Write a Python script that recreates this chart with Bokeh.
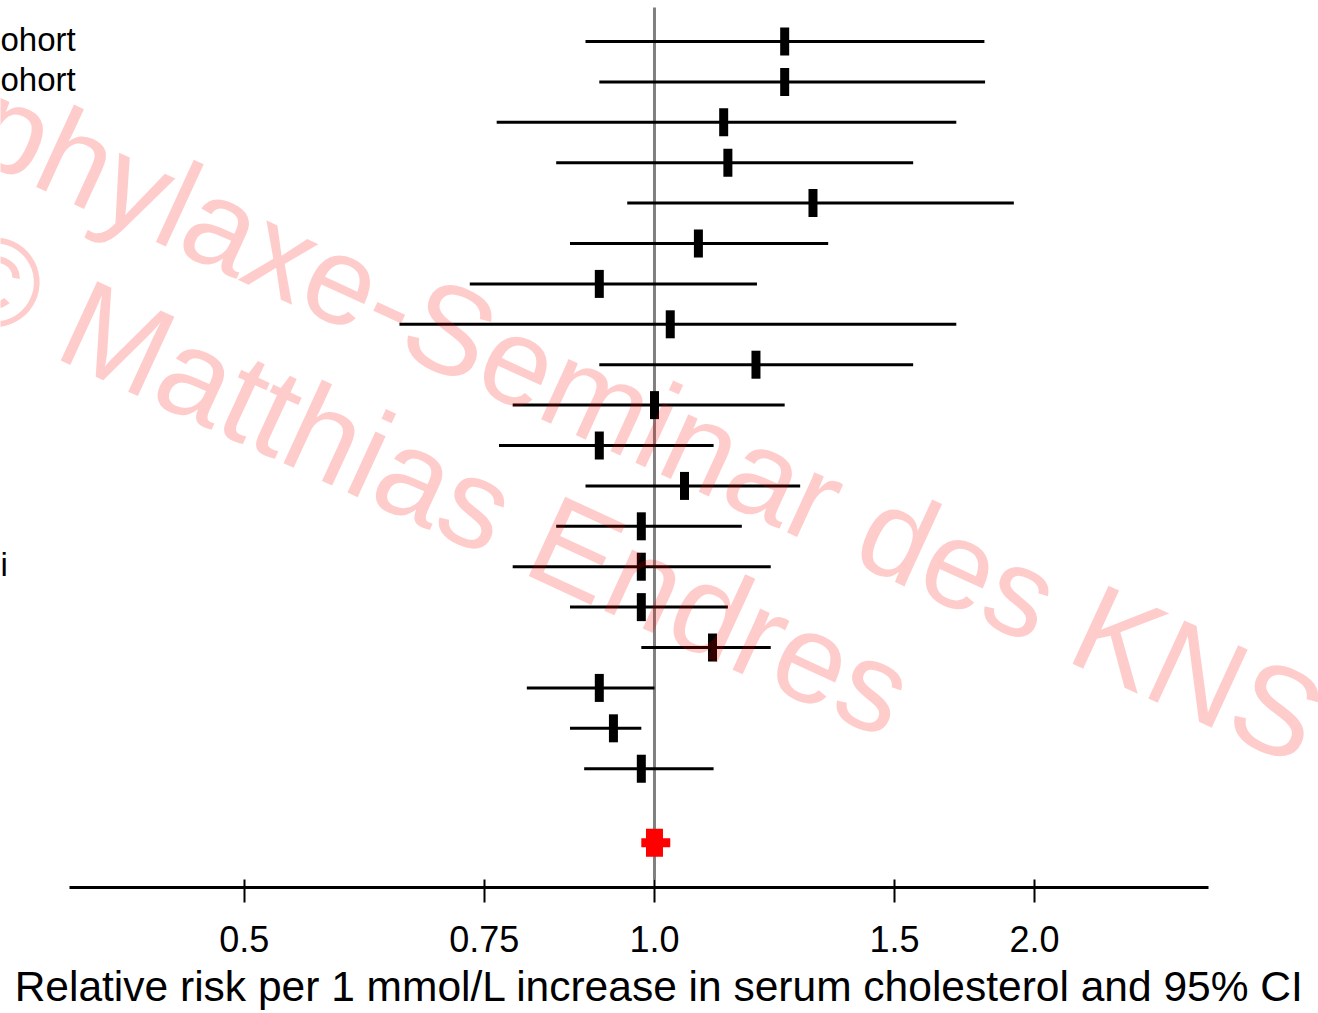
import math
from bokeh.plotting import figure
from bokeh.models import Range1d, FixedTicker, Label, ColumnDataSource
from bokeh.embed import file_html
from bokeh.resources import INLINE

# ---------------- data ----------------
rr = [1.246, 1.246, 1.124, 1.132, 1.307, 1.077, 0.911, 1.027, 1.187, 1.000,
      0.911, 1.052, 0.978, 0.978, 0.978, 1.103, 0.911, 0.933, 0.978]
ci_low = [0.890, 0.911, 0.766, 0.847, 0.955, 0.867, 0.732, 0.650, 0.911, 0.787,
          0.769, 0.890, 0.847, 0.787, 0.867, 0.978, 0.806, 0.867, 0.888]
ci_high = [1.746, 1.748, 1.665, 1.548, 1.835, 1.341, 1.189, 1.665, 1.548, 1.246,
           1.105, 1.279, 1.159, 1.217, 1.132, 1.217, 1.000, 0.978, 1.105]
# visible ends of the study labels on the left edge
row_labels = ["ohort", "ohort", "", "", "", "", "", "", "", "",
              "", "", "", "i", "", "", "", "", ""]
summary_rr = 1.0
summary_low = 0.978
summary_high = 1.027

tick_values = [0.5, 0.75, 1.0, 1.5, 1.9]
tick_labels = ["0.5", "0.75", "1.0", "1.5", "2.0"]
x_title = "Relative risk per 1 mmol/L increase in serum cholesterol and 95% CI"
watermark_1 = "Prophylaxe-Seminar des KNS"
watermark_2 = "\u00a9 Matthias Endres"

# ---------------- layout constants ----------------
FONT = "Liberation Sans"
FRAME_W, FRAME_H = 1318, 887
SUMMARY_GAP = 1.83
rows = [i + 1 for i in range(len(rr))]
summary_row = len(rr) + SUMMARY_GAP

p = figure(frame_width=FRAME_W, frame_height=FRAME_H,
           x_axis_type="log", output_backend="svg", toolbar_location=None,
           x_range=Range1d(0.3313, 3.070), y_range=Range1d(21.94, -0.015),
           min_border_left=0, min_border_right=0, min_border_top=0,
           min_border_bottom=0, y_axis_location=None)
p.outline_line_color = None
p.xgrid.visible = False
p.ygrid.visible = False
p.background_fill_color = "white"
p.border_fill_color = "white"

# reference line at RR = 1
p.segment(x0=[1.0], x1=[1.0], y0=[0.16], y1=[21.74], line_color="#808080", line_width=3)

src = ColumnDataSource(dict(y=rows, rr=rr, lo=ci_low, hi=ci_high))
p.segment(x0="lo", x1="hi", y0="y", y1="y", source=src, line_color="black", line_width=3)
p.rect(x="rr", y="y", width=9, height=28, width_units="screen", height_units="screen",
       source=src, fill_color="black", line_color=None)

# pooled estimate (red)
p.hbar(y=[summary_row], left=[summary_low], right=[summary_high], height=0.223,
       fill_color="red", line_color=None)
p.rect(x=[summary_rr], y=[summary_row], width=17, height=28, width_units="screen",
       height_units="screen", fill_color="red", line_color=None)

# axis
ax = p.xaxis[0]
ax.ticker = FixedTicker(ticks=tick_values)
ax.major_label_overrides = {v: l for v, l in zip(tick_values, tick_labels)}
ax.bounds = (0.372, 2.549)
ax.minor_tick_line_color = None
ax.axis_line_width = 3
ax.major_tick_line_width = 2
ax.major_tick_out = 15
ax.major_tick_in = 8
ax.major_label_text_font = FONT
ax.major_label_text_font_size = "36px"
ax.major_label_text_color = "black"
ax.major_label_standoff = 23
ax.axis_label = x_title
ax.axis_label_text_font = FONT
ax.axis_label_text_font_size = "42.5px"
ax.axis_label_text_font_style = "normal"
ax.axis_label_text_color = "black"
ax.axis_label_standoff = 8

# left study labels (only their visible ends)
for r, lab in zip(rows, row_labels):
    if lab:
        p.add_layout(Label(x=0, y=r, x_units="screen", y_units="data", text=lab,
                           text_align="left", text_baseline="middle", y_offset=2,
                           text_font=FONT, text_font_size="33px", text_color="black"))

# watermark
for txt, x0, y0, fs in [(watermark_1, -194, FRAME_H - 33, "125px"),
                        (watermark_2, -48, FRAME_H - 262, "127px")]:
    p.add_layout(Label(x=x0, y=y0, x_units="screen", y_units="screen", text=txt,
                       angle=-24.7, angle_units="deg", text_align="left",
                       text_baseline="alphabetic", text_font=FONT,
                       text_font_size=fs, text_color="red", text_alpha=0.2))

open("out.html", "w").write(file_html(p, INLINE))
